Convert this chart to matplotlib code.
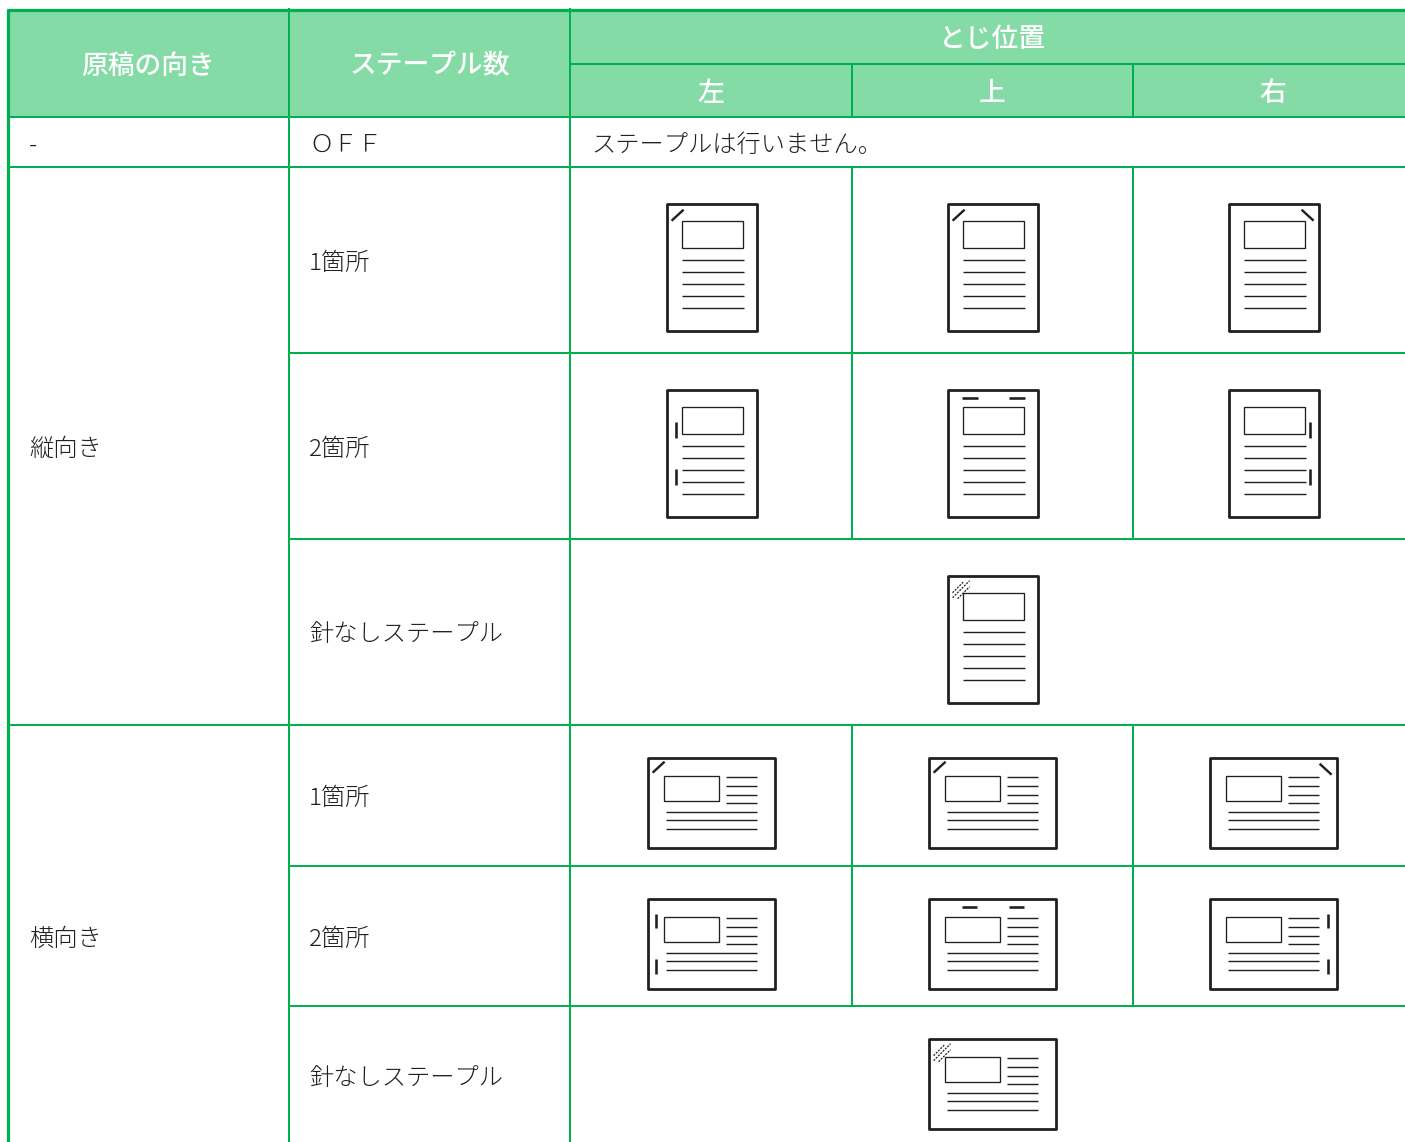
import matplotlib.pyplot as plt
from matplotlib.patches import Rectangle

plt.rcParams['font.family'] = ['Noto Sans CJK JP', 'DejaVu Sans']

GREEN = '#00AF50'
HEAD = '#84DBA6'
INK = '#231F20'

# table text
head_left = ['原稿の向き', 'ステープル数']
head_span = 'とじ位置'
head_pos = ['左', '上', '右']
orient = ['-', '縦向き', '横向き']
staple_rows = ['ＯＦＦ', '1箇所', '2箇所', '針なしステープル', '1箇所', '2箇所', '針なしステープル']
off_note = 'ステープルは行いません。'

# grid, in pixels of the reference
col_x = [8, 289, 570, 852, 1133]
row_y = [10, 117, 167, 353, 539, 725, 866, 1006]

# icons per table row: (left edge, staple style)
portrait_rows = [
    (204, [(667, 'cl'), (948, 'cl'), (1229, 'cr')]),
    (390, [(667, '2l'), (948, '2t'), (1229, '2r')]),
    (576, [(948, 'no')]),
]
landscape_rows = [
    (758, [(648, 'cl'), (929, 'cl'), (1210, 'cr')]),
    (899, [(648, '2l'), (929, '2t'), (1210, '2r')]),
    (1039, [(929, 'no')]),
]

fig = plt.figure(figsize=(14.05, 11.42), dpi=100)
ax = fig.add_axes([0, 0, 1, 1])
ax.set_xlim(0, 1405)
ax.set_ylim(1142, 0)
ax.axis('off')


def line(x0, y0, x1, y1, lw=2.0, color=INK, **kw):
    ax.plot([x0, x1], [y0, y1], color=color, lw=lw * 0.72, solid_capstyle='butt', **kw)


def label(x, y, s, size=24.2, color='#231F20', ha='left', weight='light'):
    ax.text(x, y + size * 0.36, s, fontsize=size * 0.72, color=color, ha=ha, va='baseline',
            fontweight=weight)


def staple_free(left, top):
    for a, b in [((5, 17), (16, 6)), ((5, 22), (22, 5)), ((10, 23), (22, 11))]:
        ax.plot([left + a[0], left + b[0]], [top + a[1], top + b[1]], color=INK,
                lw=0.9, dashes=(1.6, 1.0))


def staples(left, top, w, style, tall):
    y2 = [(32, 48), (79, 95)] if tall else [(15, 29), (60, 75)]
    top2 = [(14, 30), (61, 77)] if tall else [(33, 48), (80, 95)]
    if style == 'cl':
        y0 = 17 if tall else 15
        line(left + 5, top + y0, left + 17, top + y0 - 11, 2.4)
    elif style == 'cr':
        line(left + w - 17, top + 6, left + w - 5, top + 17, 2.4)
    elif style == '2l':
        for a, b in y2:
            line(left + (9 if tall else 8), top + a, left + (9 if tall else 8), top + b, 2.6)
    elif style == '2r':
        for a, b in y2:
            line(left + w - 9, top + a, left + w - 9, top + b, 2.6)
    elif style == '2t':
        for a, b in top2:
            line(left + a, top + 8, left + b, top + 8, 2.6)
    else:
        staple_free(left, top)


def portrait(left, top, style):
    left -= 0.4
    top -= 0.3
    ax.add_patch(Rectangle((left, top), 90, 127, fill=False, ec=INK, lw=2.0, joinstyle='round'))
    ax.add_patch(Rectangle((left + 15, top + 17), 61, 27.5, fill=False, ec=INK, lw=0.95))
    for dy in (56, 68, 80, 92, 104):
        line(left + 15, top + dy, left + 77, top + dy, 1.4)
    staples(left, top, 90, style, True)


def landscape(left, top, style):
    left -= 0.4
    top -= 0.3
    ax.add_patch(Rectangle((left, top), 127, 90, fill=False, ec=INK, lw=2.0, joinstyle='round'))
    ax.add_patch(Rectangle((left + 16, top + 18), 55, 25, fill=False, ec=INK, lw=0.95))
    for dy in (19, 28, 37, 45):
        line(left + 78, top + dy, left + 109, top + dy, 1.4)
    for dy in (54, 62.5, 71):
        line(left + 18, top + dy, left + 109, top + dy, 1.4)
    staples(left, top, 127, style, False)


# header fill
ax.add_patch(Rectangle((col_x[0], row_y[0]), 1405 - col_x[0], row_y[1] - row_y[0], fc=HEAD, ec='none'))

# grid lines
for y in row_y[1:]:
    x0 = col_x[0]
    if y in (353, 539, 866, 1006):
        x0 = col_x[1]
    line(x0, y, 1405, y, 2.0, GREEN)
line(col_x[0] - 1.5, row_y[0], 1405, row_y[0], 3.2, GREEN)
line(col_x[2], 64, 1405, 64, 2.0, GREEN)
line(col_x[0], row_y[0] - 1.5, col_x[0], 1142, 3.2, GREEN)
for x in col_x[1:3]:
    line(x, 8, x, 1142, 2.0, GREEN)
for x in col_x[3:]:
    line(x, 64, x, 117, 2.0, GREEN)
    for a, b in [(167, 539), (725, 1006)]:
        line(x, a, x, b, 2.0, GREEN)

# header text
label(148, 64, head_left[0], 26.8, 'white', 'center', 'medium')
label(430, 64, head_left[1], 26.8, 'white', 'center', 'medium')
label(992, 37, head_span, 26.8, 'white', 'center', 'medium')
for cx, s in zip((711, 992, 1273), head_pos):
    label(cx, 91, s, 26.8, 'white', 'center', 'medium')

# body text
for y, s in zip((143, 447, 937), orient):
    label(29, y, s)
for y, s in zip((143, 261, 447, 632, 796, 937, 1076), staple_rows):
    label(309, y, s)
label(591, 143, off_note)

for top, icons in portrait_rows:
    for left, style in icons:
        portrait(left, top, style)
for top, icons in landscape_rows:
    for left, style in icons:
        landscape(left, top, style)

fig.savefig('out.png', dpi=100, facecolor='white')
